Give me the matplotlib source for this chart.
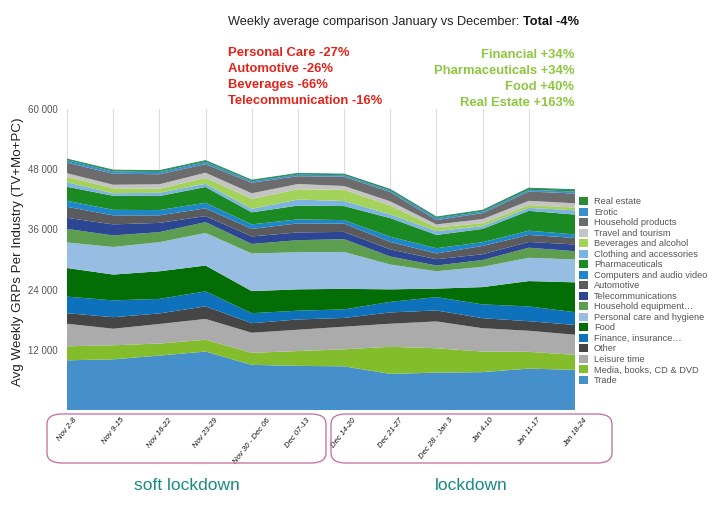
import numpy as np
import matplotlib.pyplot as plt
from matplotlib.patches import FancyBboxPatch, Patch

plt.rcParams['font.family'] = ['Liberation Sans', 'DejaVu Sans']

weeks = ["Nov 2-8", "Nov 9-15", "Nov 16-22", "Nov 23-29", "Nov 30 - Dec 06",
         "Dec 07-13", "Dec 14-20", "Dec 21-27", "Dec 28 - Jan 3", "Jan 4-10",
         "Jan 11-17", "Jan 18-24"]

# layers, bottom to top
trade = [9900, 10100, 10850, 11650, 9000, 8800, 8700, 7200, 7450, 7550, 8250, 8000]
media = [2800, 2800, 2400, 2350, 2400, 2950, 3400, 5400, 4850, 4100, 3350, 3000]
leisure = [4500, 3300, 3900, 4150, 4000, 4250, 4500, 4600, 5350, 4650, 4200, 4000]
other = [2100, 2300, 2100, 2500, 1900, 2050, 1750, 2250, 2200, 2000, 1900, 1950]
finance = [3300, 3350, 2900, 3000, 2000, 1750, 1700, 2100, 2650, 2750, 2950, 2550]
food = [5700, 5150, 5500, 5150, 4400, 4250, 4100, 2500, 1700, 3450, 5050, 5950]
personal = [5100, 5500, 5800, 6500, 7500, 7400, 7350, 4950, 3450, 4050, 4650, 4550]
hh_equip = [2700, 2300, 2000, 2150, 1900, 2400, 2550, 1600, 1150, 1350, 2000, 1650]
telecom = [2200, 2200, 1850, 1200, 1500, 1550, 1450, 1400, 1250, 1150, 1150, 1350]
automotive = [2200, 1800, 1500, 1550, 1500, 1800, 1650, 1500, 1150, 1650, 1400, 1300]
computers = [1200, 1100, 1050, 1100, 900, 800, 700, 1050, 1050, 750, 850, 700]
pharma = [2800, 2800, 2800, 3150, 2400, 2750, 2800, 3700, 2650, 2650, 3950, 3950]
clothing = [900, 500, 650, 650, 700, 1200, 1000, 750, 750, 550, 600, 850]
beverages = [1100, 1000, 800, 1200, 2000, 2050, 2250, 1750, 750, 600, 550, 550]
travel = [700, 700, 900, 1000, 1100, 1050, 750, 850, 600, 800, 850, 850]
hh_products = [2100, 2200, 2000, 1700, 2100, 1550, 1850, 1850, 850, 1200, 1850, 1950]
erotic = [500, 450, 450, 450, 300, 350, 300, 300, 400, 300, 350, 400]
real_estate = [200, 250, 250, 250, 200, 200, 200, 200, 200, 250, 300, 350]

labels = ["Trade", "Media, books, CD & DVD", "Leisure time", "Other",
          "Finance, insurance\u2026", "Food", "Personal care and hygiene",
          "Household equipment\u2026", "Telecommunications", "Automotive",
          "Computers and audio video", "Pharmaceuticals", "Clothing and accessories",
          "Beverages and alcohol", "Travel and tourism", "Household products",
          "Erotic", "Real estate"]
colors = ["#4590cb", "#84bd2c", "#ababab", "#454545", "#0d72bb", "#036e06",
          "#98bde2", "#5d9d4f", "#2c4694", "#5b5b5e", "#1f86c9", "#1c8a23",
          "#7db3e0", "#a3d35a", "#c4c4c4", "#6c6c6c", "#3a90cf", "#2a8b36"]

series = [trade, media, leisure, other, finance, food, personal, hh_equip,
          telecom, automotive, computers, pharma, clothing, beverages, travel,
          hh_products, erotic, real_estate]

x = np.arange(len(weeks))

fig = plt.figure(figsize=(7.28, 5.12), dpi=100)
ax = fig.add_axes([67 / 728, 1 - 410 / 512, 508 / 728, 301 / 512])

for xi in x:
    ax.axvline(xi, color='#dddddd', lw=0.8, zorder=0)
ax.stackplot(x, *series, colors=colors, linewidth=0, zorder=2)
# thin edge on top of the stack
ax.plot(x, np.sum(series, axis=0), color='#2e8f6e', lw=0.8, zorder=3)

ax.set_xlim(0, len(weeks) - 1)
ax.set_ylim(0, 60000)
ax.set_yticks([12000, 24000, 36000, 48000, 60000])
ax.set_yticklabels(["12 000", "24 000", "36 000", "48 000", "60 000"])
ax.tick_params(axis='y', length=0, labelsize=7, labelcolor='#555555', pad=7)
ax.set_xticks([])
for s in ax.spines.values():
    s.set_visible(False)

fig.text(18 / 728, 1 - 252 / 512, "Avg Weekly GRPs Per Industry (TV+Mo+PC)",
         rotation=90, ha='center', va='center', fontsize=9.6, color='#222222')

# rotated week labels, centred under each week
trans = ax.get_xaxis_transform()
for xi, w in zip(x, weeks):
    ax.text(xi, -0.022, w, transform=trans, rotation=52, ha='center', va='top',
            fontsize=5.6, style='italic', color='#111111')

# rounded boxes round the labels
for x0, x1, name in [(47, 326, "soft lockdown"), (331, 612, "lockdown")]:
    box = FancyBboxPatch((x0 / 728, 1 - 463 / 512), (x1 - x0) / 728, 49 / 512,
                         boxstyle="round,pad=0,rounding_size=0.02",
                         transform=fig.transFigure, fill=False,
                         edgecolor='#c56a9a', lw=0.9)
    fig.patches.append(box)
    fig.text((x0 + x1) / 2 / 728, 1 - 486 / 512, name, ha='center', va='center',
             fontsize=12.5, color='#1a8a82')

# title with bold total
t1 = fig.text(228 / 728, 1 - 22 / 512, "Weekly average comparison January vs December: ",
              ha='left', va='center', fontsize=9.2, color='#222222')
fig.canvas.draw()
bb = t1.get_window_extent()
fig.text(bb.x1 / fig.bbox.width, 1 - 22 / 512, "Total -4%", ha='left', va='center',
         fontsize=9.2, fontweight='bold', color='#111111')

red_lines = ["Personal Care -27%", "Automotive -26%", "Beverages -66%",
             "Telecommunication -16%"]
green_lines = ["Financial +34%", "Pharmaceuticals +34%", "Food +40%",
               "Real Estate +163%"]
for i, s in enumerate(red_lines):
    fig.text(228 / 728, 1 - (53 + 16 * i) / 512, s, ha='left', va='center',
             fontsize=9.4, fontweight='bold', color='#e2231a')
for i, s in enumerate(green_lines):
    fig.text(574 / 728, 1 - (55 + 16 * i) / 512, s, ha='right', va='center',
             fontsize=9.4, fontweight='bold', color='#8dc63f')

handles = [Patch(facecolor=c, edgecolor='none', label=l)
           for c, l in zip(colors[::-1], labels[::-1])]
fig.legend(handles=handles, loc='upper left', bbox_to_anchor=(579 / 728, 1 - 197 / 512),
           frameon=False, fontsize=6.7, labelcolor='#555555', handlelength=1.0,
           handleheight=0.95, handletextpad=0.6, labelspacing=0.14, borderaxespad=0,
           borderpad=0)

fig.savefig("out.png", dpi=100)
